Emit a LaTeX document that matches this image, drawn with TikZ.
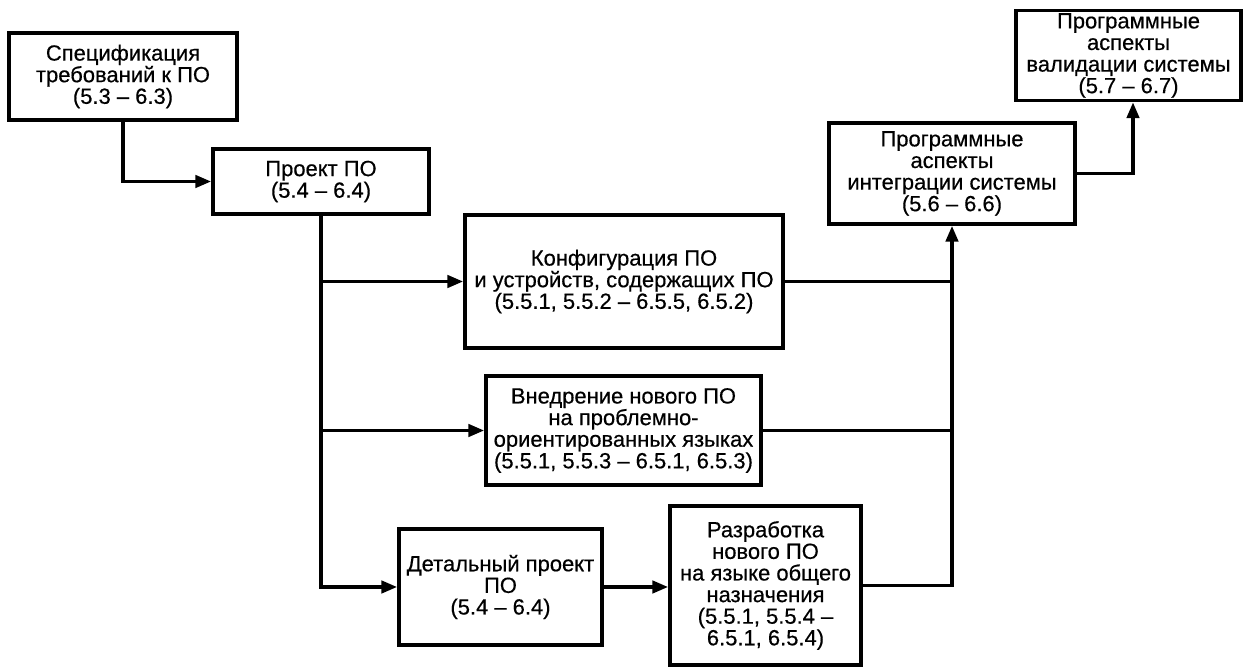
\documentclass[tikz,border=0pt]{standalone}
\usepackage{fontspec}
\setmainfont{Liberation Sans}
\newfontfamily\blokfont{Liberation Sans}[FakeBold=0.5]
\usepackage{tikz}
\usetikzlibrary{arrows.meta, positioning}

\tikzset{
	blok/.style={rectangle,draw,line width=2.1pt,align=center,inner xsep=2pt,inner ysep=0pt,
		font=\blokfont\fontsize{12.5}{12.3}\selectfont},
	ln/.style={line width=2pt},
	arr/.style={line width=2pt,-{Triangle[length=9pt,width=7pt]}}
}

\begin{document}
\begin{tikzpicture}[x=0.02cm,y=-0.02cm]

		\useasboundingbox (0,0) rectangle (1245,668);

		\node[blok,minimum width=4.56cm,minimum height=1.74cm] (spec) at (123,76.5) {Спецификация\\требований к ПО\\(5.3 – 6.3)};
		\node[blok,minimum width=4.32cm,minimum height=1.30cm] (proj) at (321,181.5) {Проект ПО\\(5.4 – 6.4)};
		\node[blok,minimum width=6.36cm,minimum height=2.66cm] (konf) at (624,281.5) {Конфигурация ПО\\и устройств, содержащих ПО\\(5.5.1, 5.5.2 – 6.5.5, 6.5.2)};
		\node[blok,minimum width=5.50cm,minimum height=2.18cm] (vnedr) at (623.5,430.5) {Внедрение нового ПО\\на проблемно-\\ориентированных языках\\(5.5.1, 5.5.3 – 6.5.1, 6.5.3)};
		\node[blok,minimum width=4.06cm,minimum height=2.32cm] (detal) at (500.5,587) {Детальный проект\\ПО\\(5.4 – 6.4)};
		\node[blok,minimum width=3.82cm,minimum height=3.18cm] (razr) at (765.5,585.5) {Разработка\\нового ПО\\на языке общего\\назначения\\(5.5.1, 5.5.4 –\\6.5.1, 6.5.4)};
		\node[blok,minimum width=4.92cm,minimum height=2.02cm] (integr) at (952,173.5) {Программные\\аспекты\\интеграции системы\\(5.6 – 6.6)};
		\node[blok,minimum width=4.50cm,minimum height=1.80cm] (valid) at (1128.5,55.5) {Программные\\аспекты\\валидации системы\\(5.7 – 6.7)};

		\coordinate (k1) at (proj.south |- konf.west);
		\coordinate (k2) at (proj.south |- vnedr.west);

		\draw[arr] (spec.south) |- (proj.west);
		\draw[arr] (proj.south) |- (detal.west);
		\draw[arr] (k1) -- (konf.west);
		\draw[arr] (k2) -- (vnedr.west);
		\draw[arr] (detal.east) -- (detal.east -| razr.west);

		\draw[ln] (konf.east) -- (konf.east -| integr.south);
		\draw[ln] (vnedr.east) -- (vnedr.east -| integr.south);
		\draw[arr] (razr.east) -| (integr.south);

		\draw[arr] (integr.east) -| ([xshift=0.09cm]valid.south);

	\end{tikzpicture}
\end{document}
